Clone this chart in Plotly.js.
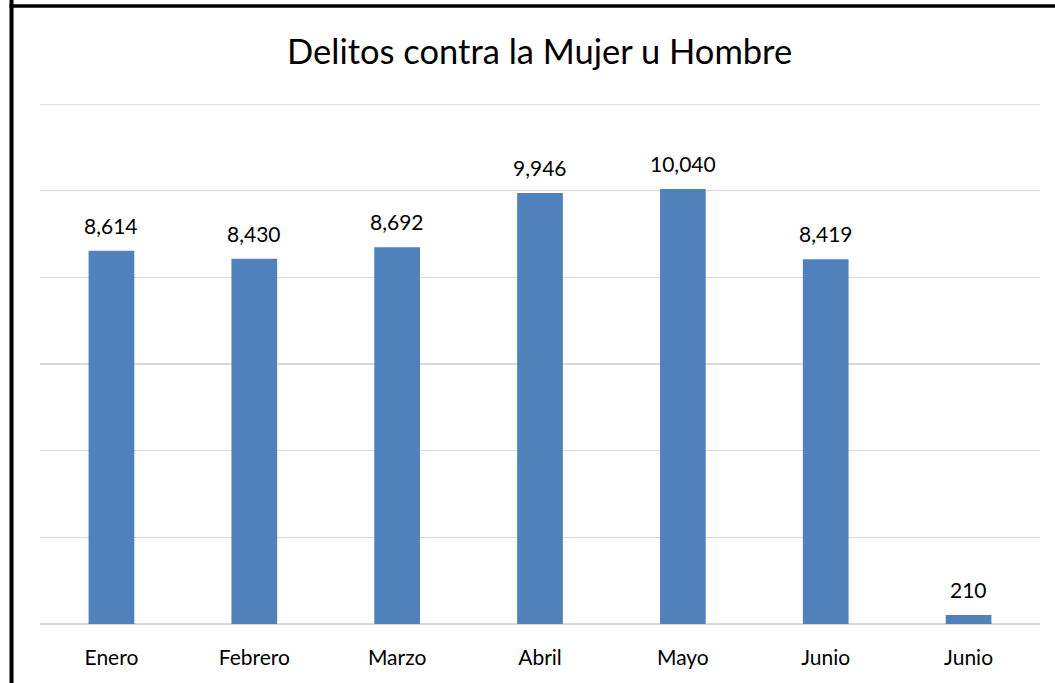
<!DOCTYPE html>
<html><head><meta charset="utf-8">
<script src="https://cdn.plot.ly/plotly-3.0.1.min.js"></script>
<style>html,body{margin:0;padding:0;background:#fff;}#chart{width:1055px;height:683px;}</style>
</head><body><div id="chart"></div>
<script>
const categories = ["Enero","Febrero","Marzo","Abril","Mayo","Junio","Junio"];
const values = [8614, 8430, 8692, 9946, 10040, 8419, 210];
const positions = categories.map((c,i)=>i);
const fontFam = "Lato, 'Open Sans', sans-serif";

const trace = {
  type: 'bar',
  x: positions,
  y: values,
  marker: {color: '#4F81BD'},
  hoverinfo: 'skip'
};

const annotations = values.map((v,i)=>({
  x: positions[i], y: v, xref: 'x', yref: 'y',
  text: v.toLocaleString('en-US'),
  showarrow: false, yanchor: 'bottom', yshift: 11,
  font: {family: fontFam, size: 21, color: '#000'}
}));

const layout = {
  width: 1055, height: 683,
  margin: {l: 40, r: 15, t: 104, b: 59},
  paper_bgcolor: '#fff', plot_bgcolor: '#fff',
  title: {text: 'Delitos contra la Mujer u Hombre', x: 0.5115, xanchor: 'center', y: 0.924, yanchor: 'middle',
          font: {family: fontFam, size: 34.5, color: '#000'}},
  bargap: 0.68,
  showlegend: false,
  xaxis: {
    tickmode: 'array', tickvals: positions, ticktext: categories,
    range: [-0.5, 6.5], showgrid: false, zeroline: false, showline: false,
    ticks: 'outside', ticklen: 15, tickcolor: 'rgba(0,0,0,0)',
    tickfont: {family: fontFam, size: 21, color: '#000'}
  },
  yaxis: {
    range: [0, 12000], dtick: 2000, showgrid: true, gridcolor: '#D9D9D9', gridwidth: 1.5,
    showticklabels: false, zeroline: true, zerolinecolor: '#D9D9D9', zerolinewidth: 1.5, showline: false
  },
  annotations: annotations,
  shapes: [
    {type: 'line', xref: 'paper', yref: 'y', x0: 0, x1: 1, y0: 12000, y1: 12000, layer: 'below',
     line: {color: '#D9D9D9', width: 1.5}},
    {type: 'line', xref: 'paper', yref: 'paper', x0: -0.0285, x1: -0.0285, y0: -0.2, y1: 1.2,
     line: {color: '#000', width: 4}},
    {type: 'line', xref: 'paper', yref: 'paper', x0: -0.0305, x1: 1.02, y0: 1.1885, y1: 1.1885,
     line: {color: '#000', width: 3.5}}
  ]
};

Plotly.newPlot('chart', [trace], layout, {displayModeBar: false, staticPlot: true});
</script></body></html>
